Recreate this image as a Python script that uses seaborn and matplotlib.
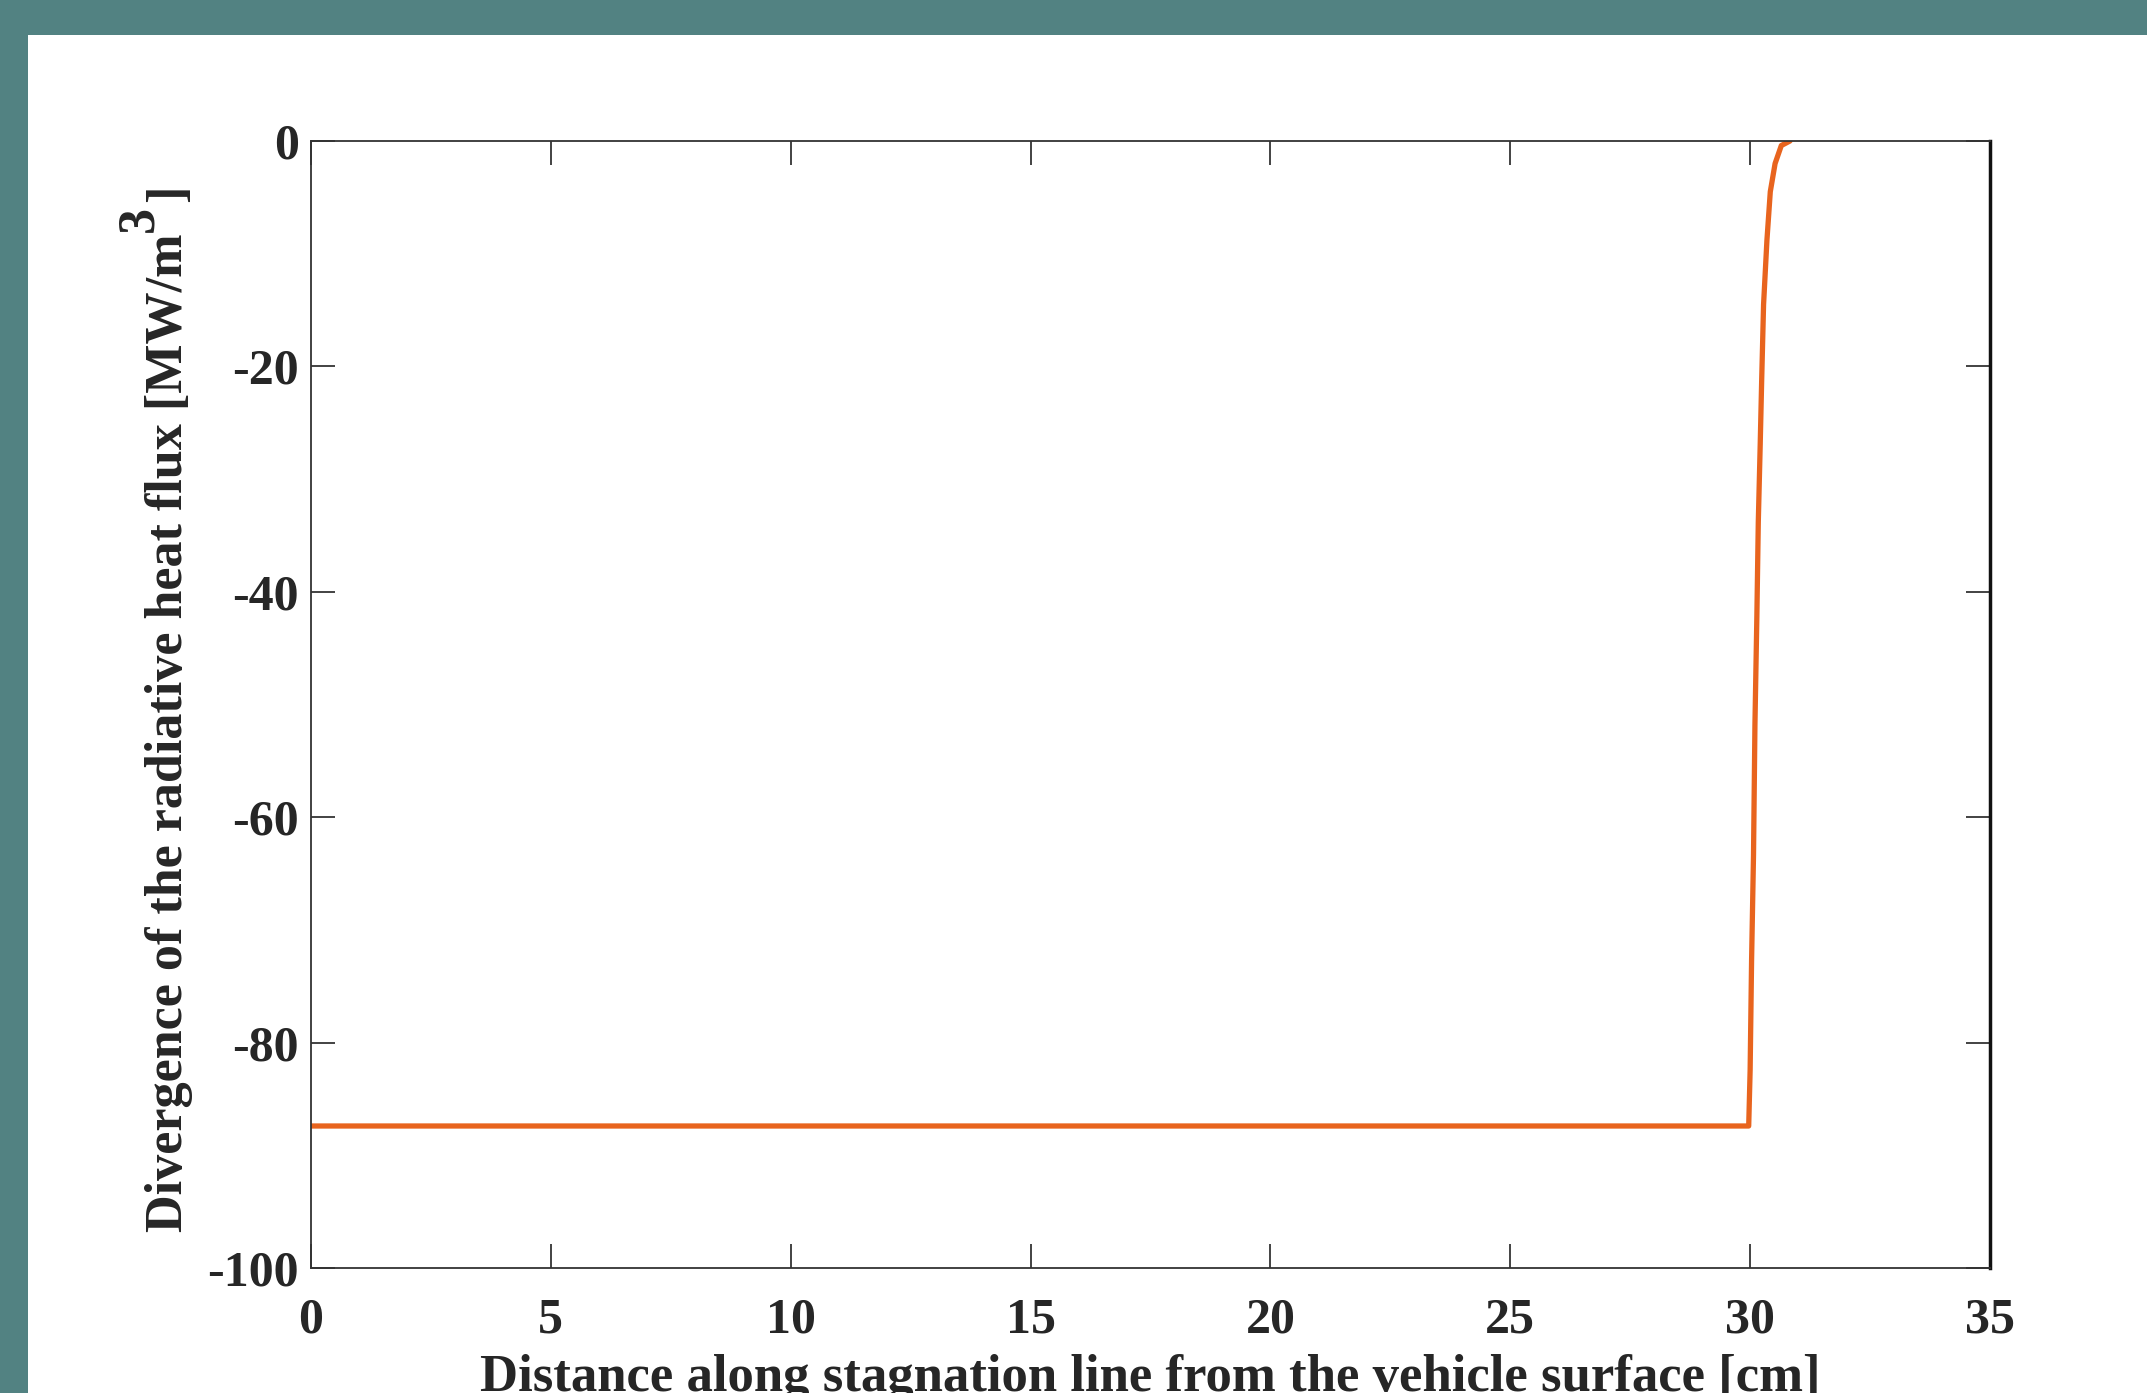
import numpy as np
import pandas as pd
import matplotlib
matplotlib.use('Agg')
import matplotlib.pyplot as plt
import seaborn as sns
from matplotlib.patches import Rectangle

#---------------------------------------------------------
# distance [cm] and divergence of radiative heat flux [MW/m^3]
dist=[0.0, 10.0, 20.0, 29.97, 30.0, 30.03, 30.07, 30.10, 30.14, 30.17, 30.21, 30.24,
      30.28, 30.35, 30.42, 30.52, 30.65, 30.83]
div_q=[-87.4, -87.4, -87.4, -87.4, -82.4, -72.7, -63.4, -51.8, -42.2, -33.8, -26.9, -21.3,
       -14.5, -8.8, -4.5, -2.0, -0.4, 0.0]
xticks=[0, 5, 10, 15, 20, 25, 30, 35]
yticks=[-100, -80, -60, -40, -20, 0]

df=pd.DataFrame({'dist': dist, 'div_q': div_q})

#--------------------------------------------------------
sns.set_style('ticks')
plt.rcParams['font.family']=['Liberation Serif', 'DejaVu Serif']
plt.rcParams['font.weight']='bold'

W, H=2147, 1393
fig=plt.figure(figsize=(W/100, H/100), dpi=100, facecolor='#528282')
fig.patches.append(Rectangle((28/W, 0), 1-28/W, 1-35/H, transform=fig.transFigure,
                             facecolor='white', edgecolor='none', zorder=-10))
ax=fig.add_axes([311/W, 1-1268/H, (1990-311)/W, (1268-141)/H])

sns.lineplot(data=df, x='dist', y='div_q', ax=ax, color='#E8641E', lw=3.8, sort=False)

ax.set_xlim(0, 35)
ax.set_ylim(-100, 0)
ax.set_xticks(xticks)
ax.set_yticks(yticks)
ax.set_xticklabels([str(t) for t in xticks], fontsize=36, weight='bold')
ax.set_yticklabels([str(t) for t in yticks], fontsize=36, weight='bold')
ax.tick_params(axis='both', direction='in', length=17, width=1.2, color='#222222',
               top=True, right=True)
ax.tick_params(axis='x', pad=21.5)
ax.tick_params(axis='y', pad=9)
for s in ax.spines.values():
	s.set_linewidth(1.3)
	s.set_color('#333333')
ax.spines['right'].set_linewidth(2.5)
ax.spines['right'].set_color('#111111')

#x label
ax.set_xlabel('Distance along stagnation line from the vehicle surface [cm]',
              fontsize=38, weight='bold')
ax.xaxis.label.set_va('baseline')
ax.xaxis.set_label_coords(0.5, -(1391-1268)/(1268-141))

#y label with full-size raised superscript
ax.set_ylabel('')
t1=fig.text(193/W, (H-1232)/H, 'Divergence of the radiative heat flux [MW/m',
            rotation=90, ha='right', va='bottom', fontsize=37.5, weight='bold')
t3=ax.annotate('3', xy=(1, 1), xycoords=t1, xytext=(-30, 2), textcoords='offset pixels',
               rotation=90, ha='right', va='bottom', fontsize=37.5, weight='bold',
               annotation_clip=False)
ax.annotate(']', xy=(1, 1), xycoords=(t1, t3), xytext=(0, 3), textcoords='offset pixels',
            rotation=90, ha='right', va='bottom', fontsize=37.5, weight='bold',
            annotation_clip=False)

fig.savefig('out.png', dpi=100, facecolor=fig.get_facecolor())
plt.close()
